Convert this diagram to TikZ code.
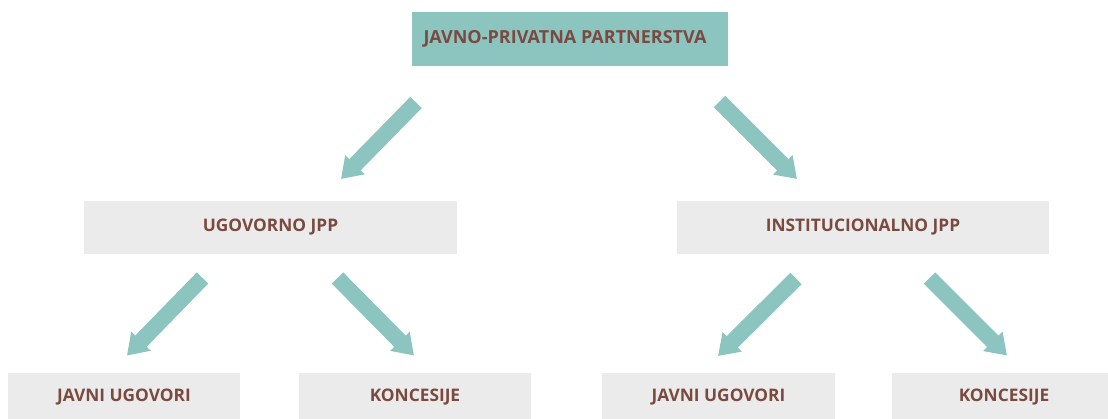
\documentclass[tikz,border=0pt]{standalone}
\usepackage{fontspec}
\setmainfont{Open Sans}
\usetikzlibrary{arrows.meta}
\definecolor{tealbox}{HTML}{8CC4C0}
\definecolor{greybox}{HTML}{EBEBEB}
\definecolor{browntext}{HTML}{7A4A40}
\tikzset{
  topbox/.style={rectangle, fill=tealbox, inner sep=0pt, text=browntext, font=\bfseries\fontsize{18}{21}\selectfont},
  catbox/.style={rectangle, fill=greybox, inner sep=0pt, text=browntext, font=\bfseries\fontsize{17.3}{20}\selectfont},
  bigarrow/.style={draw=tealbox, line width=16pt, line cap=butt, -{Triangle[width=26pt,length=20pt]}}
}
\begin{document}
\begin{tikzpicture}[x=1pt,y=-1pt]
\useasboundingbox (0,0) rectangle (1108,419);
\clip (0,0) rectangle (1108,419);
\fill[white] (0,0) rectangle (1108,419);
\node[topbox, minimum width=316pt, minimum height=54pt] (top) at (570,39) {\hspace*{-10pt}JAVNO-PRIVATNA PARTNERSTVA};
\node[catbox, minimum width=373pt, minimum height=53pt] (ugo) at (270.5,227.5) {UGOVORNO JPP};
\node[catbox, minimum width=372pt, minimum height=53pt] (inst) at (863,227.5) {INSTITUCIONALNO JPP};
\node[catbox, minimum width=232pt, minimum height=49pt] (jv1) at (124,397.5) {JAVNI UGOVORI};
\node[catbox, minimum width=232pt, minimum height=49pt] (ko1) at (415,397.5) {KONCESIJE};
\node[catbox, minimum width=233pt, minimum height=49pt] (jv2) at (718.5,397.5) {JAVNI UGOVORI};
\node[catbox, minimum width=224pt, minimum height=49pt] (ko2) at (1004,397.5) {KONCESIJE};
\coordinate (a1s) at (416,102.5);
\coordinate (a1e) at (341,179);
\coordinate (a2s) at (719.5,101.5);
\coordinate (a2e) at (797,179);
\coordinate (a3s) at (202.5,278);
\coordinate (a3e) at (127,355.5);
\coordinate (a4s) at (337.5,278);
\coordinate (a4e) at (414,355.5);
\coordinate (a5s) at (796,278.5);
\coordinate (a5e) at (718,356);
\coordinate (a6s) at (929.5,278);
\coordinate (a6e) at (1007,355.5);
\draw[bigarrow] (a1s) -- (a1e);
\draw[bigarrow] (a2s) -- (a2e);
\draw[bigarrow] (a3s) -- (a3e);
\draw[bigarrow] (a4s) -- (a4e);
\draw[bigarrow] (a5s) -- (a5e);
\draw[bigarrow] (a6s) -- (a6e);
\end{tikzpicture}
\end{document}
